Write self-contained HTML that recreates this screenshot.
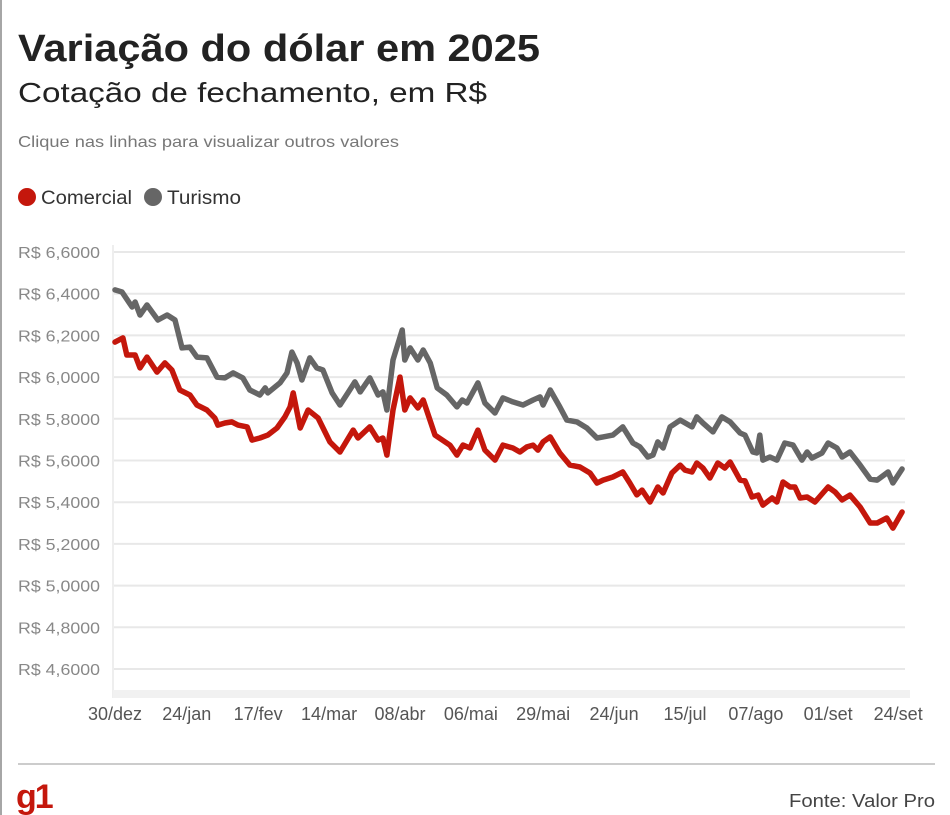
<!DOCTYPE html>
<html><head><meta charset="utf-8">
<style>
body{margin:0;background:#fff;font-family:"Liberation Sans",sans-serif;}
#wrap{position:relative;width:950px;height:815px;overflow:hidden;}
</style></head>
<body>
<div id="wrap">
<svg id="svg" width="950" height="815" xmlns="http://www.w3.org/2000/svg">
  <line x1="1" y1="0" x2="1" y2="815" stroke="#888" stroke-width="1.5"/>
  <text x="18" y="61" font-size="38" font-weight="bold" fill="#222" textLength="522" lengthAdjust="spacingAndGlyphs">Variação do dólar em 2025</text>
  <text x="18" y="102" font-size="28" fill="#222" textLength="469" lengthAdjust="spacingAndGlyphs">Cotação de fechamento, em R$</text>
  <text x="18" y="147" font-size="16" fill="#777" textLength="381" lengthAdjust="spacingAndGlyphs">Clique nas linhas para visualizar outros valores</text>
  <g>
    <circle cx="27" cy="197" r="9" fill="#c4170c"/>
    <text x="41" y="204" font-size="19" fill="#333" textLength="91" lengthAdjust="spacingAndGlyphs">Comercial</text>
  </g>
  <g>
    <circle cx="153" cy="197" r="9" fill="#666"/>
    <text x="167" y="204" font-size="19" fill="#333" textLength="74" lengthAdjust="spacingAndGlyphs">Turismo</text>
  </g>
  <g id="grid"></g>
  <g id="xaxis"></g>
  <g id="series"></g>
  <line x1="18" y1="764" x2="935" y2="764" stroke="#ccc" stroke-width="2"/>
  <text x="16" y="808" font-size="34" font-weight="bold" fill="#c4170c" letter-spacing="-2">g1</text>
  <text x="935" y="807" font-size="18" fill="#444" text-anchor="end" textLength="146" lengthAdjust="spacingAndGlyphs">Fonte: Valor Pro</text>
</svg>
</div>
<script>
const yTicks=[6.6,6.4,6.2,6.0,5.8,5.6,5.4,5.2,5.0,4.8,4.6];
const yTickLabels=["R$ 6,6000","R$ 6,4000","R$ 6,2000","R$ 6,0000","R$ 5,8000","R$ 5,6000","R$ 5,4000","R$ 5,2000","R$ 5,0000","R$ 4,8000","R$ 4,6000"];
const xTickDays=[0,16.4,32.7,48.9,65.1,81.3,97.8,114,130.2,146.4,162.9,178.9];
const xTickLabels=["30/dez","24/jan","17/fev","14/mar","08/abr","06/mai","29/mai","24/jun","15/jul","07/ago","01/set","24/set"];
const comercialDays=[0,1.8,2.7,4.6,5.7,7.3,9.6,11.4,13,14.8,17.1,18.7,21,22.8,23.5,25.1,26.7,28.1,30.2,31.3,33.1,34.9,37,38.8,40,40.7,42.3,44.1,46.4,49.1,51.4,54.4,55.5,58.2,60.1,61.2,62.1,63.5,65.1,66.2,67.4,69.2,70.4,73.1,76.5,78.1,79.5,81.1,82.9,84.5,86.8,88.6,90.9,92.5,94.1,95.5,96.6,97.8,99.4,101.6,103.9,106.2,108.5,110.1,111.5,113.7,116,117.6,119.2,120.4,122.2,124,125.2,127.2,129.1,130.2,131.8,132.9,134.3,135.9,137.7,139.3,140.5,142.8,143.9,145.5,146.9,148,150.1,151.2,152.6,154.2,155.3,156.5,158.1,159.9,162.9,164.5,166.1,167.9,170.2,172.5,174.1,176.3,177.7,179.8];
const comercialVals=[6.168,6.188,6.106,6.106,6.044,6.096,6.024,6.068,6.034,5.938,5.914,5.866,5.842,5.804,5.770,5.780,5.785,5.770,5.761,5.698,5.708,5.722,5.756,5.809,5.857,5.924,5.756,5.842,5.804,5.689,5.641,5.746,5.708,5.761,5.698,5.708,5.626,5.842,6.000,5.842,5.900,5.852,5.890,5.722,5.674,5.626,5.674,5.660,5.746,5.650,5.602,5.674,5.660,5.641,5.665,5.674,5.650,5.689,5.713,5.636,5.578,5.569,5.540,5.492,5.506,5.521,5.545,5.492,5.435,5.458,5.401,5.473,5.444,5.540,5.578,5.554,5.545,5.588,5.564,5.516,5.588,5.564,5.593,5.506,5.502,5.425,5.434,5.386,5.420,5.401,5.497,5.473,5.473,5.420,5.425,5.401,5.473,5.449,5.411,5.434,5.377,5.300,5.300,5.324,5.276,5.353];
const turismoDays=[0,1.6,3.9,4.6,5.7,7.3,9.8,11.9,13.7,15.3,17.1,18.7,21,23.3,25.1,27,29.2,30.8,33.1,34.3,34.9,37.7,39.3,40.4,41.6,42.7,44.5,46.1,47.5,49.6,51.4,53.2,54.8,56,58.2,60.1,61.2,62.1,63.5,65.6,66.2,67.4,69.2,70.4,72,73.6,75.8,78.1,79.3,80.4,82.9,84.5,86.8,88.6,90.9,93.2,95.5,97.1,97.8,99.4,101.6,103.2,105.5,107.8,110.1,111.5,113.7,116,118.3,119.9,121.7,122.9,124,125.2,126.8,129.1,131.8,132.9,134.3,136.6,138.6,140.5,142.8,143.9,145.7,146.6,147.3,148,149.6,151.2,153,154.9,156.9,158.1,159.2,161.5,162.9,164.9,166.1,167.9,170.2,172.5,174.1,176.6,177.7,179.8];
const turismoVals=[6.418,6.408,6.336,6.360,6.298,6.346,6.274,6.298,6.274,6.140,6.144,6.096,6.092,6.000,5.996,6.020,5.996,5.938,5.914,5.948,5.924,5.972,6.020,6.120,6.068,5.986,6.092,6.044,6.034,5.924,5.866,5.924,5.977,5.929,5.996,5.914,5.929,5.842,6.082,6.226,6.082,6.140,6.082,6.130,6.068,5.948,5.914,5.857,5.890,5.876,5.972,5.876,5.828,5.900,5.881,5.866,5.890,5.905,5.866,5.938,5.857,5.794,5.785,5.756,5.708,5.713,5.722,5.761,5.684,5.665,5.617,5.626,5.689,5.660,5.761,5.794,5.761,5.809,5.780,5.737,5.809,5.785,5.732,5.722,5.641,5.636,5.722,5.602,5.617,5.602,5.684,5.674,5.602,5.641,5.612,5.636,5.684,5.660,5.617,5.641,5.578,5.511,5.506,5.545,5.492,5.559];

const NS="http://www.w3.org/2000/svg";
const X0=115,X1=903,D0=0,D1=180;
const Y0=252,Y1=669,V0=6.6,V1=4.6;
function xScale(d){return X0+(d-D0)/(D1-D0)*(X1-X0);}
function yScale(v){return Y0+(V0-v)/(V0-V1)*(Y1-Y0);}
function mk(tag,attrs,parent){const e=document.createElementNS(NS,tag);for(const k in attrs)e.setAttribute(k,attrs[k]);parent.appendChild(e);return e;}

const grid=document.getElementById('grid');
yTicks.forEach((v,i)=>{
  const y=yScale(v);
  const ln=mk('line',{x1:112,x2:905,y1:y,y2:y,stroke:'#e8e8e8','stroke-width':2},grid);
  
  
  const t=mk('text',{x:18,y:y+6,'font-size':16,fill:'#888',textLength:82,lengthAdjust:'spacingAndGlyphs'},grid);
  t.textContent=yTickLabels[i];
  
  
});
const vax=mk('line',{x1:113,x2:113,y1:245,y2:698,stroke:'#eee','stroke-width':2},grid);



const xa=document.getElementById('xaxis');
const band=mk('rect',{x:113,y:690,width:797,height:8,fill:'#f1f1f1'},xa);


xTickDays.forEach((d,i)=>{
  const t=mk('text',{x:xScale(d),y:720,'font-size':18,fill:'#555','text-anchor':'middle'},xa);
  t.textContent=xTickLabels[i];
  
  
});

const sg=document.getElementById('series');
function path(days,vals){return days.map((d,i)=>(i?'L':'M')+xScale(d).toFixed(1)+','+yScale(vals[i]).toFixed(1)).join(' ');}
const pt=mk('path',{d:path(turismoDays,turismoVals),fill:'none',stroke:'#666','stroke-width':5.5,'stroke-linejoin':'round','stroke-linecap':'round'},sg);


const pc=mk('path',{d:path(comercialDays,comercialVals),fill:'none',stroke:'#c4170c','stroke-width':5.5,'stroke-linejoin':'round','stroke-linecap':'round'},sg);


</script>
</body></html>
